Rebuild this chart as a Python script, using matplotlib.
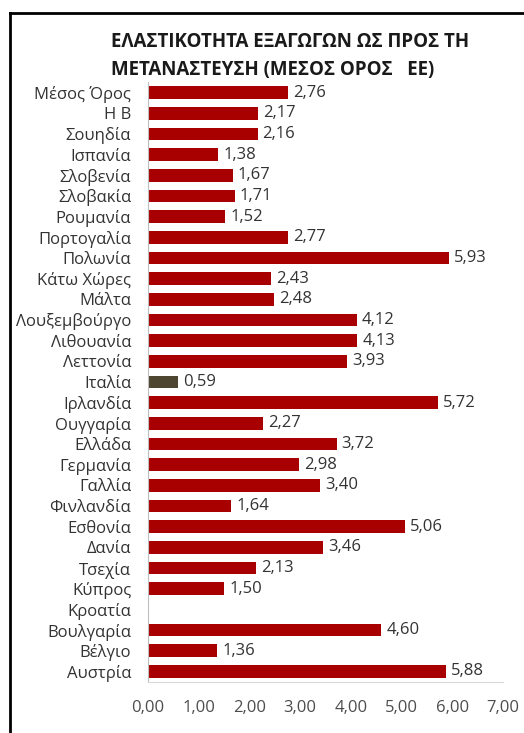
import matplotlib.pyplot as plt
from matplotlib.lines import Line2D
import numpy as np

plt.rcParams['font.family'] = ['Open Sans', 'DejaVu Sans']

# Δεδομένα (από πάνω προς τα κάτω)
countries = ['Μέσος Όρος', 'Η Β', 'Σουηδία', 'Ισπανία', 'Σλοβενία', 'Σλοβακία',
             'Ρουμανία', 'Πορτογαλία', 'Πολωνία', 'Κάτω Χώρες', 'Μάλτα',
             'Λουξεμβούργο', 'Λιθουανία', 'Λεττονία', 'Ιταλία', 'Ιρλανδία',
             'Ουγγαρία', 'Ελλάδα', 'Γερμανία', 'Γαλλία', 'Φινλανδία', 'Εσθονία',
             'Δανία', 'Τσεχία', 'Κύπρος', 'Κροατία', 'Βουλγαρία', 'Βέλγιο', 'Αυστρία']
values = [2.76, 2.17, 2.16, 1.38, 1.67, 1.71, 1.52, 2.77, 5.93, 2.43, 2.48,
          4.12, 4.13, 3.93, 0.59, 5.72, 2.27, 3.72, 2.98, 3.40, 1.64, 5.06,
          3.46, 2.13, 1.50, np.nan, 4.60, 1.36, 5.88]
highlight = 'Ιταλία'
xticks = [0, 1, 2, 3, 4, 5, 6, 7]

red = '#a80000'
olive = '#4f4632'
text_col = '#333333'

fig = plt.figure(figsize=(5.24, 7.33), dpi=100)
ax = fig.add_axes([0.2824, 0.070, 0.6776, 0.8177])

y = np.arange(len(countries))
colors = [olive if c == highlight else red for c in countries]
vals = np.nan_to_num(values, nan=0.0)
ax.barh(y, vals, height=0.6, color=colors)

for yi, v in zip(y, values):
    if np.isnan(v):
        continue
    ax.text(v + 0.1, yi, f'{v:.2f}'.replace('.', ','), va='center', ha='left',
            fontsize=12, color=text_col)

ax.set_ylim(len(countries) - 0.5, -0.5)
ax.set_xlim(0, 7)
ax.set_yticks(y)
ax.set_yticklabels(countries, fontsize=12, color=text_col)
ax.set_xticks(xticks)
ax.set_xticklabels([f'{t:.2f}'.replace('.', ',') for t in xticks], fontsize=12, color='#4d4d4d')
ax.tick_params(axis='both', length=0)
ax.tick_params(axis='y', pad=12)
ax.tick_params(axis='x', pad=13)

for s in ['top', 'right']:
    ax.spines[s].set_visible(False)
ax.spines['left'].set_color('#bfbfbf')
ax.spines['bottom'].set_color('#d9d9d9')

fig.text(111 / 524, 1 - 42 / 733, 'ΕΛΑΣΤΙΚΟΤΗΤΑ ΕΞΑΓΩΓΩΝ ΩΣ ΠΡΟΣ ΤΗ', fontsize=13.5,
         fontweight='bold', ha='left', va='center', color='#1a1a1a')
fig.text(111 / 524, 1 - 70 / 733, 'ΜΕΤΑΝΑΣΤΕΥΣΗ (ΜΕΣΟΣ ΟΡΟΣ   ΕΕ)', fontsize=13.5,
         fontweight='bold', ha='left', va='center', color='#1a1a1a')

# πλαίσιο (αριστερά και πάνω)
fig.add_artist(Line2D([10 / 524, 10 / 524], [0, 1 - 13 / 733], color='black', lw=2,
                      transform=fig.transFigure))
fig.add_artist(Line2D([10 / 524, 1], [1 - 13 / 733, 1 - 13 / 733], color='black', lw=2,
                      transform=fig.transFigure))

fig.savefig('out.png', dpi=100)
